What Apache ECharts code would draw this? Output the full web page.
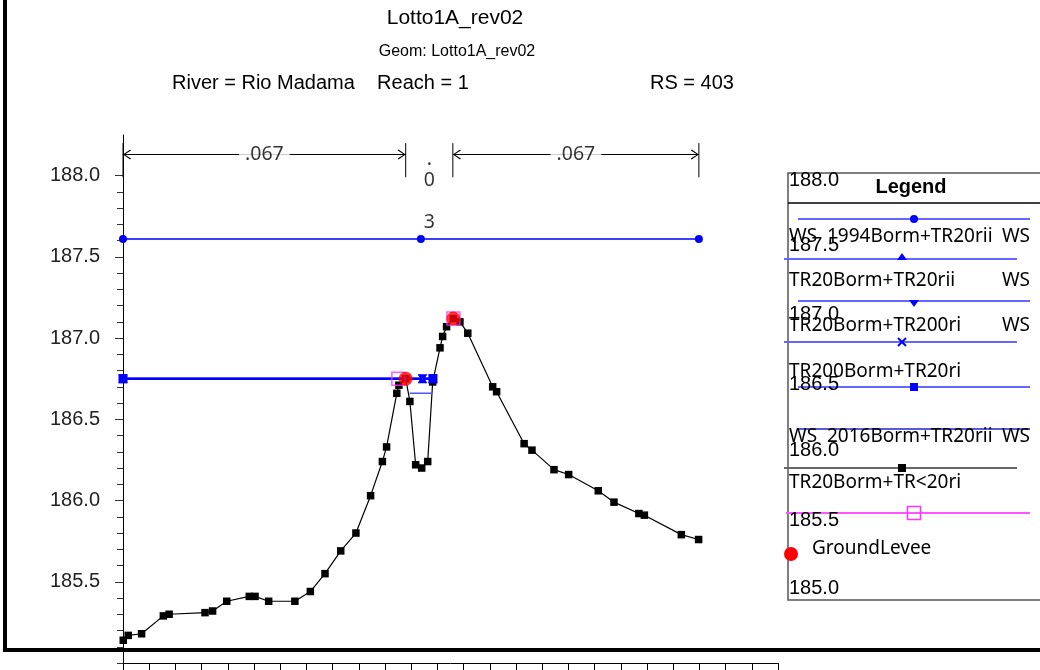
<!DOCTYPE html>
<html>
<head>
<meta charset="utf-8">
<title>Lotto1A_rev02</title>
<script src="https://cdn.jsdelivr.net/npm/echarts/dist/echarts.min.js"></script>
<style>
  html, body { margin: 0; padding: 0; background: #fff; }
  #chart { width: 1040px; height: 670px; }
</style>
</head>
<body>
<div id="chart"></div>
<script>
// ground profile (station, elevation)
const groundSta = [0.1, 2.0, 7.1, 15.4, 17.6, 31.3, 34.2, 39.6, 48.2, 50.4, 55.6, 65.6, 71.5, 77.1, 83.1, 88.9,
  94.5, 99.0, 100.6, 104.5, 105.3, 107.9, 109.5, 111.7, 114.0, 116.3, 118.2, 121.0, 122.0, 123.5, 126.1,
  128.6, 131.6, 141.1, 142.6, 153.1, 156.1, 164.5, 170.1, 181.4, 187.4, 196.9, 199.0, 213.1, 219.7]
const groundElev = [185.14, 185.17, 185.18, 185.29, 185.30, 185.31, 185.32, 185.38, 185.41, 185.41, 185.38, 185.38, 185.44, 185.55, 185.69, 185.80,
  186.03, 186.24, 186.33, 186.66, 186.71, 186.75, 186.61, 186.22, 186.20, 186.24, 186.73, 186.94, 187.01, 187.07, 187.12,
  187.10, 187.03, 186.70, 186.67, 186.35, 186.31, 186.19, 186.16, 186.06, 185.99, 185.92, 185.91, 185.79, 185.76]

// water surfaces
const ws1994Sta = [0, 113.7, 219.8]
const ws1994Elev = 187.61
const wsLowSta = [0, 114.3, 118.3]
const wsLowElev = 186.75
const wsChanSta = [109.4, 118.0]
const wsChanElev = 186.66

// levee points
const leveeSta = [105.1, 126.1]
const leveeElev = [186.75, 187.12]
const groundLeveeSta = [107.9, 126.1]
const groundLeveeElev = [186.75, 187.12]

// bank stations and manning n
const bankSta = [0, 107.9, 125.9, 219.8]
const nValues = ['.067', '.03', '.067']

// axes
const xMin = 0, xMax = 250, xStep = 10
const yMin = 185.0, yMax = 188.25
const yLabels = [185.5, 186.0, 186.5, 187.0, 187.5, 188.0]

// legend box texts
const legendNames = ['WS  1994Borm+TR20rii', 'TR20Borm+TR20rii', 'TR20Borm+TR200ri', 'TR200Borm+TR20ri',
  'WS  2016Borm+TR20rii', 'TR20Borm+TR<20ri', 'GroundLevee']
const legendNums = ['188.0', '187.5', '187.0', '186.5', '186.0', '185.5', '185.0']

const minorTicks = []
for (let v = 1850; v <= 1880; v++) minorTicks.push(v / 10)

const blue = '#0000ff'
const xSym = 'path://M0,1 L1,0 L5,4 L9,0 L10,1 L6,5 L10,9 L9,10 L5,6 L1,10 L0,9 L4,5 Z'
const leftArrow = 'path://M9,0 L10,1 L2,5 L10,9 L9,10 L0,5 Z'
const rightArrow = 'path://M1,0 L10,5 L1,10 L0,9 L8,5 L0,1 Z'

function pts(sta, elev) {
  return sta.map((s, i) => [s, Array.isArray(elev) ? elev[i] : elev])
}

const series = [
  {
    name: 'Ground',
    type: 'line',
    data: pts(groundSta, groundElev),
    symbol: 'rect',
    symbolSize: 7.5,
    lineStyle: { color: '#000', width: 1.2 },
    itemStyle: { color: '#000' },
    z: 2,
  },
  {
    name: 'WS 1994Borm+TR20rii',
    type: 'line',
    data: pts(ws1994Sta, ws1994Elev),
    symbol: 'circle',
    symbolSize: 8,
    lineStyle: { color: blue, width: 1.5 },
    itemStyle: { color: blue },
    z: 3,
  },
  {
    name: 'WS TR20Borm+TR20rii',
    type: 'line',
    data: pts(wsLowSta, wsLowElev),
    symbol: 'triangle',
    symbolSize: 9,
    lineStyle: { color: blue, width: 2 },
    itemStyle: { color: blue },
    z: 3,
  },
  {
    name: 'WS TR20Borm+TR200ri',
    type: 'line',
    data: pts(wsLowSta, wsLowElev),
    symbol: 'triangle',
    symbolRotate: 180,
    symbolSize: 9,
    lineStyle: { color: blue, width: 2 },
    itemStyle: { color: blue },
    z: 3,
  },
  {
    name: 'WS TR200Borm+TR20ri',
    type: 'line',
    data: pts(wsLowSta, wsLowElev),
    symbol: xSym,
    symbolSize: 9,
    lineStyle: { color: blue, width: 2 },
    itemStyle: { color: blue },
    z: 3,
  },
  {
    name: 'WS 2016Borm+TR20rii',
    type: 'line',
    data: pts([wsLowSta[0], wsLowSta[2]], wsLowElev),
    symbol: 'rect',
    symbolSize: 9,
    lineStyle: { color: blue, width: 2 },
    itemStyle: { color: blue },
    z: 3,
  },
  {
    name: 'WS channel',
    type: 'line',
    data: pts(wsChanSta, wsChanElev),
    symbol: 'none',
    lineStyle: { color: '#5555ff', width: 1.5 },
    z: 3,
  },
  {
    name: 'Levee',
    type: 'scatter',
    data: pts(leveeSta, leveeElev),
    symbol: 'rect',
    symbolSize: 13,
    itemStyle: { color: 'rgba(0,0,0,0)', borderColor: '#ff33ff', borderWidth: 1.5 },
    z: 4,
  },
  {
    name: 'GroundLevee',
    type: 'scatter',
    data: pts(groundLeveeSta, groundLeveeElev),
    symbol: 'circle',
    symbolSize: 14,
    itemStyle: { color: '#ff0000' },
    z: 5,
  },
]

// manning n annotation above the section
const bankBottom = 187.99, bankTop = 188.2, arrowElev = 188.13
bankSta.forEach((s) => {
  series.push({
    type: 'line',
    data: [[s, bankBottom], [s, bankTop]],
    symbol: 'none',
    lineStyle: { color: '#000', width: 1 },
    silent: true,
  })
})
;[[bankSta[0], bankSta[1]], [bankSta[2], bankSta[3]]].forEach(([a, b]) => {
  series.push({
    type: 'line',
    data: [
      { value: [a, arrowElev], symbol: leftArrow, symbolSize: [8, 10], symbolOffset: [4, 0] },
      { value: [b, arrowElev], symbol: rightArrow, symbolSize: [8, 10], symbolOffset: [-4, 0] },
    ],
    symbol: 'none',
    showSymbol: true,
    lineStyle: { color: '#000', width: 1 },
    itemStyle: { color: '#000' },
    silent: true,
  })
})
const nLabel = { show: true, position: 'inside', color: '#000', fontFamily: 'Noto Sans', fontSize: 19.5 }
const c = nValues[1].split('')
series.push({
  type: 'scatter',
  symbolSize: 1,
  itemStyle: { color: 'rgba(0,0,0,0)' },
  silent: true,
  z: 6,
  data: [
    {
      value: [(bankSta[0] + bankSta[1]) / 2, arrowElev],
      label: { ...nLabel, formatter: nValues[0], backgroundColor: '#fff', padding: [0, 6] },
    },
    {
      value: [(bankSta[1] + bankSta[2]) / 2, 187.905],
      label: { ...nLabel, formatter: c[0] + '\n' + c[1] + '\n\n' + c[2], lineHeight: 21 },
    },
    {
      value: [(bankSta[2] + bankSta[3]) / 2, arrowElev],
      label: { ...nLabel, formatter: nValues[2], backgroundColor: '#fff', padding: [0, 6] },
    },
  ],
})

// legend box drawn by hand, the way the source program lays it out
const lgFont = '19px "Noto Sans"'
const numFont = '20px "Liberation Sans"'
const legendRows = [
  { y: 219, x1: 798, x2: 1030, color: '#6666ff', w: 2, mark: 'circle', mx: 914 },
  { y: 259, x1: 784, x2: 1017, color: '#6666ff', w: 2, mark: 'tri', mx: 902 },
  { y: 301, x1: 798, x2: 1030, color: '#6666ff', w: 2, mark: 'triDown', mx: 914 },
  { y: 342, x1: 784, x2: 1017, color: '#6666ff', w: 2, mark: 'x', mx: 902 },
  { y: 387, x1: 798, x2: 1030, color: '#6666ff', w: 2, mark: 'square', mx: 914 },
  { y: 429, x1: 798, x2: 1030, color: '#2222cc', w: 1.5 },
  { y: 468, x1: 784, x2: 1017, color: '#666666', w: 2, mark: 'black', mx: 902 },
  { y: 513, x1: 786, x2: 1030, color: '#ff55ff', w: 2, mark: 'open', mx: 914 },
]
const titleFont = '"Liberation Sans"'
const graphic = [
  // frame
  {
    type: 'polyline',
    shape: { points: [[5, 0], [5, 650], [1040, 650]] },
    style: { stroke: '#000', lineWidth: 4, fill: null },
  },
  // titles
  { type: 'text', style: { text: 'Lotto1A_rev02', x: 455, y: 18, textAlign: 'center', textVerticalAlign: 'middle', font: '21px ' + titleFont, fill: '#000' } },
  { type: 'text', style: { text: 'Geom: Lotto1A_rev02', x: 457, y: 52, textAlign: 'center', textVerticalAlign: 'middle', font: '16px ' + titleFont, fill: '#000' } },
  { type: 'text', style: { text: 'River = Rio Madama    Reach = 1', x: 172, y: 83, textVerticalAlign: 'middle', font: '20px ' + titleFont, fill: '#000' } },
  { type: 'text', style: { text: 'RS = 403', x: 692, y: 83, textAlign: 'center', textVerticalAlign: 'middle', font: '20px ' + titleFont, fill: '#000' } },
  // legend box
  { type: 'rect', shape: { x: 788, y: 173, width: 262, height: 427 }, style: { fill: '#fff', stroke: '#555', lineWidth: 1.5 } },
  { type: 'line', shape: { x1: 788, y1: 203, x2: 1040, y2: 203 }, style: { stroke: '#000', lineWidth: 1.5 } },
  { type: 'text', style: { text: 'Legend', x: 911, y: 187, textAlign: 'center', textVerticalAlign: 'middle', font: 'bold 20px ' + titleFont, fill: '#000' } },
]
legendRows.forEach((r) => {
  graphic.push({ type: 'line', shape: { x1: r.x1, y1: r.y, x2: r.x2, y2: r.y }, style: { stroke: r.color, lineWidth: r.w } })
  const m = r.mx
  if (r.mark === 'circle') graphic.push({ type: 'circle', shape: { cx: m, cy: r.y, r: 4 }, style: { fill: blue } })
  if (r.mark === 'tri') graphic.push({ type: 'polygon', shape: { points: [[m - 5, r.y + 1], [m + 5, r.y + 1], [m, r.y - 6]] }, style: { fill: blue } })
  if (r.mark === 'triDown') graphic.push({ type: 'polygon', shape: { points: [[m - 5, r.y - 1], [m + 5, r.y - 1], [m, r.y + 6]] }, style: { fill: blue } })
  if (r.mark === 'x') {
    graphic.push({ type: 'line', shape: { x1: m - 4, y1: r.y - 4, x2: m + 4, y2: r.y + 4 }, style: { stroke: blue, lineWidth: 2 } })
    graphic.push({ type: 'line', shape: { x1: m - 4, y1: r.y + 4, x2: m + 4, y2: r.y - 4 }, style: { stroke: blue, lineWidth: 2 } })
  }
  if (r.mark === 'square') graphic.push({ type: 'rect', shape: { x: m - 4, y: r.y - 4, width: 8, height: 8 }, style: { fill: blue } })
  if (r.mark === 'black') graphic.push({ type: 'rect', shape: { x: m - 4, y: r.y - 4, width: 8, height: 8 }, style: { fill: '#000' } })
  if (r.mark === 'open') graphic.push({ type: 'rect', shape: { x: m - 6.5, y: r.y - 6.5, width: 13, height: 13 }, style: { fill: null, stroke: '#ff33ff', lineWidth: 1.5 } })
})
graphic.push({ type: 'circle', shape: { cx: 791, cy: 554, r: 7 }, style: { fill: '#ff0000' } })
const nameY = [237, 281, 326, 372, 437, 483]
nameY.forEach((y, i) => {
  graphic.push({ type: 'text', style: { text: legendNames[i], x: 789, y: y, textVerticalAlign: 'middle', font: lgFont, fill: '#000' } })
})
;[237, 281, 326, 437].forEach((y) => {
  graphic.push({ type: 'text', style: { text: 'WS', x: 1030, y: y, textAlign: 'right', textVerticalAlign: 'middle', font: lgFont, fill: '#000' } })
})
graphic.push({ type: 'text', style: { text: legendNames[6], x: 812, y: 549, textVerticalAlign: 'middle', font: lgFont, fill: '#000' } })
const numY = [180, 245, 314, 384, 450, 520, 588]
numY.forEach((y, i) => {
  graphic.push({ type: 'text', style: { text: legendNums[i], x: 789, y: y, textVerticalAlign: 'middle', font: numFont, fill: '#000' } })
})

const option = {
  animation: false,
  grid: { left: 123, right: 262, top: 135, bottom: 7 },
  xAxis: {
    type: 'value',
    min: xMin,
    max: xMax,
    interval: xStep,
    axisLine: { lineStyle: { color: '#000', width: 1 } },
    axisTick: { show: true, inside: false, length: 8, lineStyle: { color: '#000' } },
    axisLabel: { show: false },
    splitLine: { show: false },
  },
  yAxis: [
    {
      type: 'value',
      min: yMin,
      max: yMax,
      axisLine: { show: true, lineStyle: { color: '#000', width: 1 } },
      axisTick: { show: true, length: 8, customValues: yLabels, lineStyle: { color: '#333' } },
      axisLabel: {
        customValues: yLabels,
        formatter: (v) => v.toFixed(1),
        margin: 23,
        color: '#222',
        fontFamily: 'Liberation Sans',
        fontSize: 20,
      },
      splitLine: { show: false },
    },
    {
      type: 'value',
      position: 'left',
      min: yMin,
      max: yMax,
      axisLine: { show: false },
      axisTick: { show: true, length: 6, customValues: minorTicks, lineStyle: { color: '#333' } },
      axisLabel: { show: false },
      splitLine: { show: false },
    },
  ],
  series: series,
  graphic: graphic,
}
echarts.init(document.querySelector('#chart')).setOption(option)
</script>
</body>
</html>
